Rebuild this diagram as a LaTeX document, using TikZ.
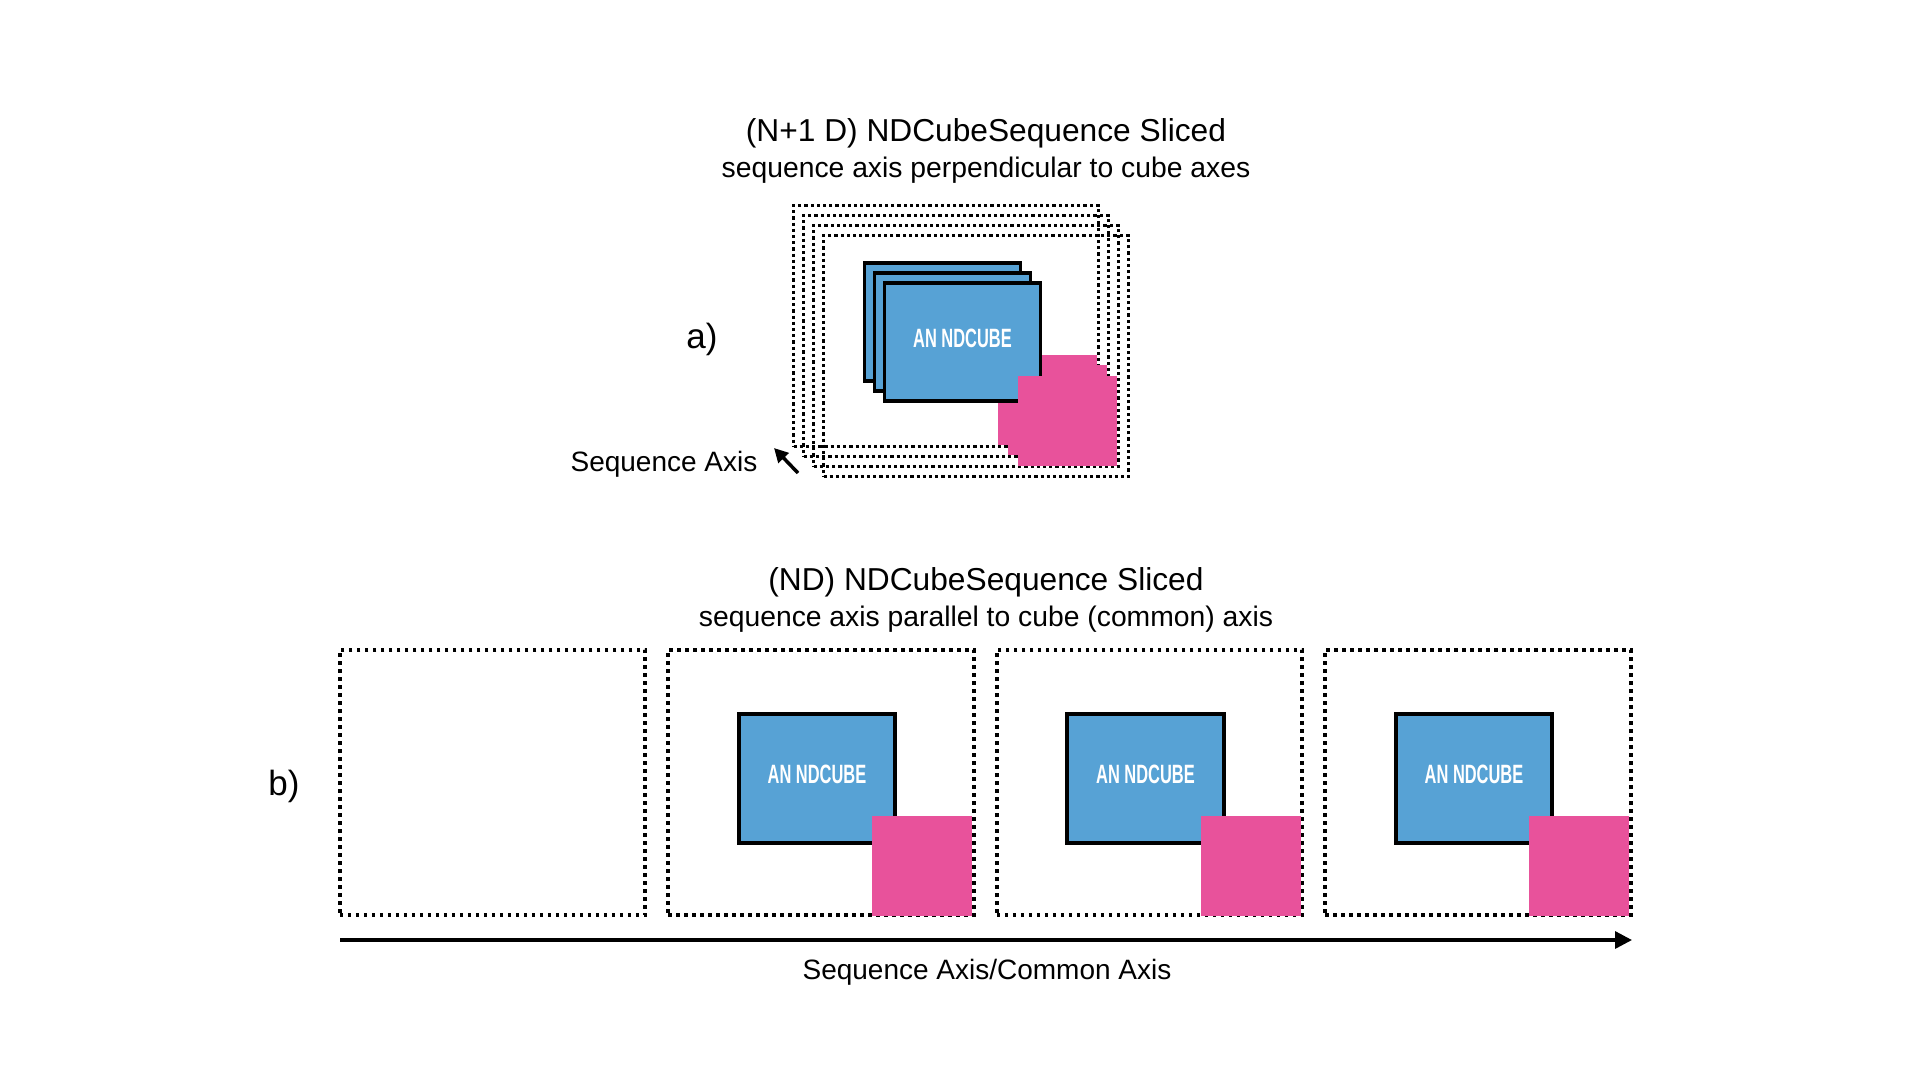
\documentclass[tikz,border=0pt]{standalone}
\usepackage{fontspec}
\setmainfont{Liberation Sans}
\newfontfamily\cubefont{Liberation Sans}[FakeStretch=0.62]
\usetikzlibrary{arrows.meta}
\definecolor{cubeblue}{RGB}{87,162,213}
\definecolor{cubepink}{RGB}{232,82,155}
\begin{document}
\begin{tikzpicture}[x=1pt,y=-1pt,
  every node/.style={inner sep=0pt, outer sep=0pt},
  topframe/.style={draw, line width=3.2pt, dash pattern=on 3.2pt off 3pt,
    minimum width=305pt, minimum height=241pt},
  botframe/.style={draw, line width=3.6pt, dash pattern=on 3.6pt off 4.4pt,
    minimum width=305.5pt, minimum height=265.5pt},
  cubetxt/.style={font=\cubefont\bfseries\fontsize{26.5}{30}\selectfont, text=white, text depth=8pt},
  topcube/.style={draw, line width=3.2pt, fill=cubeblue, minimum width=156pt, minimum height=118pt, cubetxt},
  botcube/.style={draw, line width=3.6pt, fill=cubeblue, minimum width=156.5pt, minimum height=129.5pt, cubetxt},
  toppink/.style={fill=cubepink, minimum width=99pt, minimum height=90pt},
  botpink/.style={fill=cubepink, minimum width=100pt, minimum height=100pt},
  title/.style={font=\fontsize{31.7}{36}\selectfont},
  subtitle/.style={font=\fontsize{28.3}{34}\selectfont},
  label/.style={font=\fontsize{28}{34}\selectfont},
  part/.style={font=\fontsize{35}{40}\selectfont}
]
\useasboundingbox (0,0) rectangle (1920,1080);
\fill[white] (0,0) rectangle (1920,1080);

% ---------- a) ----------
\node[title] (ta1) at (986,133) {(N+1 D) NDCubeSequence Sliced};
\node[subtitle] (ta2) at (986,170) {sequence axis perpendicular to cube axes};
\node[part] (pa) at (702,339.5) {a)};

\node[topframe] (fa1) at (946,326) {};
\node[topframe] (fa2) at (956,336) {};
\node[topframe] (fa3) at (966,346) {};
\node[topframe] (fa4) at (976,356) {};

\node[toppink] (pka) at (1047,400) {};
\node[toppink] (pkb) at (1057,410) {};
\node[topcube] (ca1) at (942.5,322) {};
\node[topcube] (ca2) at (952.5,332) {};
\node[topcube] (ca3) at (962.5,342) {AN NDCUBE};
\node[toppink] (pkc) at (1067,421) {};

\node[label] (sa) at (664,464.5) {Sequence Axis};
\coordinate (sat) at (798,473);
\coordinate (sah) at (774,448);
\draw[line width=3.5pt, -{Triangle[length=14pt,width=14pt]}] (sat) -- (sah);

% ---------- b) ----------
\node[title] (tb1) at (986,582.5) {(ND) NDCubeSequence Sliced};
\node[subtitle] (tb2) at (986,619.5) {sequence axis parallel to cube (common) axis};
\node[part] (pb) at (284,786.5) {b)};

\node[botframe] (fb1) at (492.5,782.5) {};
\node[botframe] (fb2) at (821,782.5) {};
\node[botframe] (fb3) at (1149.5,782.5) {};
\node[botframe] (fb4) at (1478,782.5) {};

\foreach \n/\x in {2/821,3/1149.5,4/1478}{
  \node[botcube] (cb\n) at (\x-4,778.5) {AN NDCUBE};
  \node[botpink] (pb\n) at (\x+101,866) {};
}

\coordinate (axs) at (340,940);
\coordinate (axe) at (1632,940);
\draw[line width=3.3pt, -{Triangle[length=17pt,width=17pt]}] (axs) -- (axe);
\node[label] (axl) at (987,972) {Sequence Axis/Common Axis};
\end{tikzpicture}
\end{document}
